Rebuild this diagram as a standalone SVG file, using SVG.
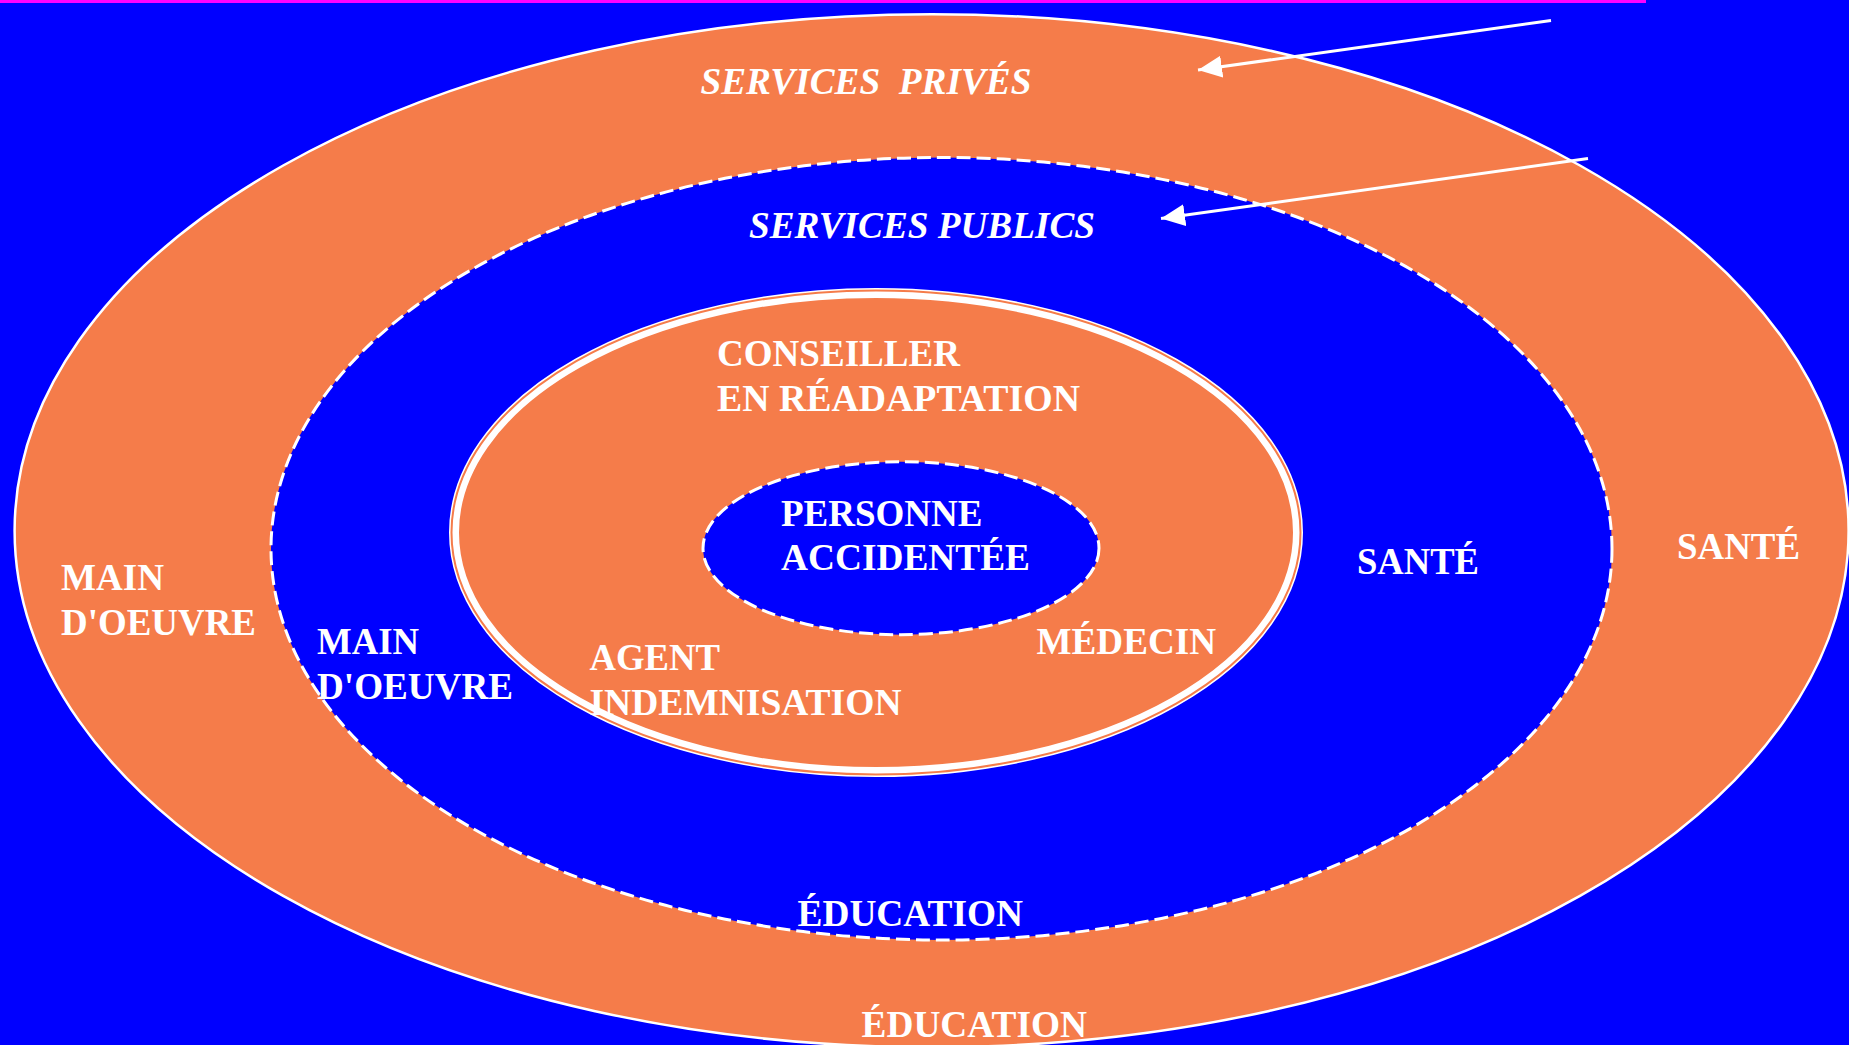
<svg xmlns="http://www.w3.org/2000/svg" width="1849" height="1045" viewBox="0 0 1849 1045">
<style>
.t{font-family:"Liberation Serif","Times New Roman",serif;font-weight:bold;font-size:37.5px;fill:#FFFFFF;white-space:pre}
.i{font-style:italic}
.dash{stroke:#FFFFFF;stroke-width:3;stroke-dasharray:14 6}
.arr{stroke:#FFFFFF;stroke-width:3;fill:none}
</style>
<defs>
<marker id="ah" markerUnits="userSpaceOnUse" markerWidth="26" markerHeight="24" refX="24" refY="11" orient="auto" viewBox="0 0 26 24">
<path d="M0,0 L24,11 L0,22 Z" fill="#FFFFFF"/>
</marker>
</defs>
<rect x="0" y="0" width="1849" height="1045" fill="#0000FF"/>
<rect x="0" y="0" width="1646" height="3" fill="#FF00FF"/>
<g id="ring-prives">
<ellipse cx="931.6" cy="530.7" rx="917" ry="516.5" fill="#F57C4A" stroke="#FFFFFF" stroke-width="2.5"/>
<text class="t i" x="700.5" y="94" xml:space="preserve" textLength="331" lengthAdjust="spacingAndGlyphs">SERVICES  PRIVÉS</text>
<text class="t" x="61" y="590" textLength="103" lengthAdjust="spacingAndGlyphs">MAIN</text>
<text class="t" x="61" y="635" textLength="195" lengthAdjust="spacingAndGlyphs">D'OEUVRE</text>
<text class="t" x="1677" y="558.5" textLength="123" lengthAdjust="spacingAndGlyphs">SANTÉ</text>
<text class="t" x="861.5" y="1036.5" textLength="225.5" lengthAdjust="spacingAndGlyphs">ÉDUCATION</text>
</g>
<g id="ring-publics">
<ellipse class="dash" cx="941.5" cy="548.75" rx="670.5" ry="391.25" fill="#0000FF"/>
<text class="t i" x="749" y="237.5" textLength="346" lengthAdjust="spacingAndGlyphs">SERVICES PUBLICS</text>
<text class="t" x="317" y="654" textLength="102" lengthAdjust="spacingAndGlyphs">MAIN</text>
<text class="t" x="317" y="699" textLength="196" lengthAdjust="spacingAndGlyphs">D'OEUVRE</text>
<text class="t" x="1357" y="574" textLength="122" lengthAdjust="spacingAndGlyphs">SANTÉ</text>
<text class="t" x="797.5" y="925.5" textLength="225.5" lengthAdjust="spacingAndGlyphs">ÉDUCATION</text>
</g>
<g id="ring-conseiller">
<ellipse cx="876" cy="532.5" rx="422" ry="239.5" fill="#F57C4A" stroke="#FFFFFF" stroke-width="10"/>
<ellipse cx="876" cy="532.5" rx="424.5" ry="242" fill="none" stroke="#F57C4A" stroke-width="2"/>
<text class="t" x="717" y="366" textLength="243" lengthAdjust="spacingAndGlyphs">CONSEILLER</text>
<text class="t" x="717" y="410.5" textLength="363" lengthAdjust="spacingAndGlyphs">EN RÉADAPTATION</text>
<text class="t" x="589.5" y="669.5" textLength="130.5" lengthAdjust="spacingAndGlyphs">AGENT</text>
<text class="t" x="589.5" y="715" textLength="312" lengthAdjust="spacingAndGlyphs">INDEMNISATION</text>
<text class="t" x="1036.5" y="654" textLength="179.5" lengthAdjust="spacingAndGlyphs">MÉDECIN</text>
</g>
<g id="personne">
<ellipse class="dash" cx="901" cy="548.2" rx="198" ry="86.5" fill="#0000FF"/>
<text class="t" x="781" y="525.5" textLength="201.5" lengthAdjust="spacingAndGlyphs">PERSONNE</text>
<text class="t" x="781" y="570" textLength="249" lengthAdjust="spacingAndGlyphs">ACCIDENTÉE</text>
</g>
<g id="connectors">
<line class="arr" x1="1551" y1="20.5" x2="1198" y2="70" marker-end="url(#ah)"/>
<line class="arr" x1="1588" y1="158.5" x2="1161" y2="218.5" marker-end="url(#ah)"/>
</g>
</svg>
